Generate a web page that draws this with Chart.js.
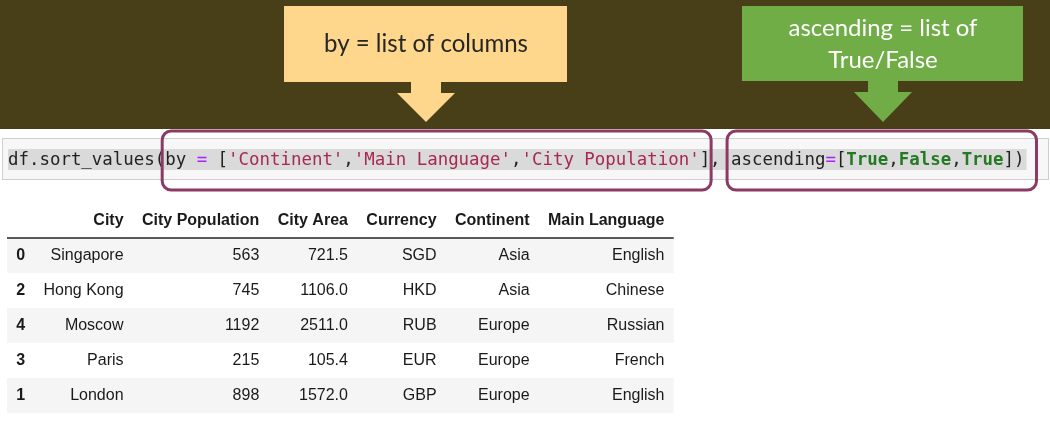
<!DOCTYPE html>
<html>
<head>
<meta charset="utf-8">
<script src="https://cdn.jsdelivr.net/npm/chart.js@4"></script>
<style>
  html, body { margin: 0; padding: 0; background: #fff; }
  #wrap { width: 1050px; height: 423px; position: relative; }
</style>
</head>
<body>
<div id="wrap"><canvas id="sortChart"></canvas></div>
<script>
// dataframe after sort_values
const indexLabels = ['0', '2', '4', '3', '1'];
const columns = ['City', 'City Population', 'City Area', 'Currency', 'Continent', 'Main Language'];
const cities = ['Singapore', 'Hong Kong', 'Moscow', 'Paris', 'London'];
const populations = [563, 745, 1192, 215, 898];
const areas = [721.5, 1106.0, 2511.0, 105.4, 1572.0];
const currencies = ['SGD', 'HKD', 'RUB', 'EUR', 'GBP'];
const continents = ['Asia', 'Asia', 'Europe', 'Europe', 'Europe'];
const languages = ['English', 'Chinese', 'Russian', 'French', 'English'];

// code line + callouts
const sortBy = ['Continent', 'Main Language', 'City Population'];
const ascendingFlags = [true, false, true];
const byNote = ['by = list of columns'];
const ascNote = ['ascending = list of', 'True/False'];

const cellRows = cities.map((c, i) => [
  c, String(populations[i]), areas[i].toFixed(1), currencies[i], continents[i], languages[i]
]);

const TXT = '#1a1a1a';
const MONO = '"DejaVu Sans Mono", monospace';
const SANS = '"Liberation Sans", Arial, sans-serif';
const NOTE_FONT = 'Lato, "Open Sans", sans-serif';

function callout(ctx, box, tipY, fill, lines, color, baselines, fitW) {
  ctx.fillStyle = fill;
  ctx.fillRect(box.x1, box.y1, box.x2 - box.x1, box.y2 - box.y1);
  const cx = Math.round((box.x1 + box.x2) / 2);
  // shaft + head
  ctx.beginPath();
  ctx.moveTo(cx - 15, box.y2 - 1);
  ctx.lineTo(cx + 15, box.y2 - 1);
  ctx.lineTo(cx + 15, box.y2 + 11);
  ctx.lineTo(cx + 29, box.y2 + 11);
  ctx.lineTo(cx, tipY);
  ctx.lineTo(cx - 29, box.y2 + 11);
  ctx.lineTo(cx - 15, box.y2 + 11);
  ctx.closePath();
  ctx.fill();

  ctx.font = '25px ' + NOTE_FONT;
  const w0 = ctx.measureText(lines[0]).width;
  const size = 25 * fitW / w0;
  ctx.font = size.toFixed(2) + 'px ' + NOTE_FONT;
  ctx.fillStyle = color;
  ctx.textAlign = 'center';
  ctx.textBaseline = 'alphabetic';
  lines.forEach((t, i) => ctx.fillText(t, cx, baselines[i]));
}

function roundBox(ctx, x1, y1, x2, y2, r) {
  ctx.beginPath();
  ctx.moveTo(x1 + r, y1);
  ctx.arcTo(x2, y1, x2, y2, r);
  ctx.arcTo(x2, y2, x1, y2, r);
  ctx.arcTo(x1, y2, x1, y1, r);
  ctx.arcTo(x1, y1, x2, y1, r);
  ctx.closePath();
  ctx.stroke();
}

function drawCode(ctx) {
  // code cell
  ctx.fillStyle = '#f7f7f7';
  ctx.fillRect(2, 138, 1046, 41);
  ctx.strokeStyle = '#cfcfcf';
  ctx.lineWidth = 1;
  ctx.strokeRect(2.5, 138.5, 1046, 41);

  const tokens = [['df.sort_values(', '#222'], ['by', '#222', 'b1'], [' ', '#222'], ['=', '#aa22ff'], [' [', '#222']];
  sortBy.forEach((s, i) => {
    tokens.push(["'" + s + "'", '#a8284f']);
    tokens.push([i < sortBy.length - 1 ? ',' : ']', '#222', i < sortBy.length - 1 ? null : 'e1']);
  });
  tokens.push([', ', '#222']);
  tokens.push(['ascending', '#222', 'b2']);
  tokens.push(['=', '#aa22ff']);
  tokens.push(['[', '#222']);
  ascendingFlags.forEach((f, i) => {
    tokens.push([f ? 'True' : 'False', '#237a23', null, true]);
    tokens.push([i < ascendingFlags.length - 1 ? ',' : '])', '#222', i < ascendingFlags.length - 1 ? null : 'e2']);
  });

  const full = tokens.map(t => t[0]).join('');
  ctx.font = '17px ' + MONO;
  const size = 17 * 1017 / ctx.measureText(full).width;
  ctx.font = size + 'px ' + MONO;
  const x0 = 8;
  const fullW = ctx.measureText(full).width;
  ctx.fillStyle = '#dadada';
  ctx.fillRect(x0, 149, fullW + 2, 21);

  ctx.textAlign = 'left';
  ctx.textBaseline = 'alphabetic';
  const marks = {};
  let x = x0;
  tokens.forEach(([t, col, mark, bold]) => {
    ctx.font = (bold ? 'bold ' : '') + size + 'px ' + MONO;
    ctx.fillStyle = col;
    ctx.fillText(t, x, 165);
    ctx.font = size + 'px ' + MONO;
    const w = ctx.measureText(t).width;
    if (mark) marks[mark] = mark[0] === 'b' ? x : x + w;
    x += w;
  });

  ctx.strokeStyle = '#8c3a64';
  ctx.lineWidth = 3;
  roundBox(ctx, marks.b1 - 3, 131, marks.e1 + 1, 190, 9);
  roundBox(ctx, marks.b2 - 4, 131, marks.e2 + 12, 190, 9);
}

const tablePlugin = {
  id: 'tablePlugin',
  beforeDraw(chart) {
    const ctx = chart.ctx;
    ctx.save();
    ctx.fillStyle = '#ffffff';
    ctx.fillRect(0, 0, chart.width, chart.height);
    ctx.fillStyle = '#483f19';
    ctx.fillRect(0, 0, chart.width, 129);
    callout(ctx, { x1: 284, x2: 567, y1: 6, y2: 82 }, 122, '#fed68c', byNote, '#262626', [52], 204);
    callout(ctx, { x1: 742, x2: 1023, y1: 6, y2: 81 }, 122, '#70ad47', ascNote, '#ffffff', [36, 68], 189);
    drawCode(ctx);
    ctx.restore();
  },
  afterDraw(chart) {
    const ctx = chart.ctx;
    const yS = chart.scales.y;
    const area = chart.chartArea;
    const band = yS.height / indexLabels.length;
    const pad = 9.2;
    ctx.save();

    // column widths from the text itself
    const widths = [];
    ctx.font = 'bold 16px ' + SANS;
    widths.push(Math.max(...indexLabels.map(l => ctx.measureText(l).width)));
    columns.forEach((c, j) => {
      ctx.font = 'bold 16px ' + SANS;
      let w = ctx.measureText(c).width;
      ctx.font = '16px ' + SANS;
      cellRows.forEach(r => { w = Math.max(w, ctx.measureText(r[j]).width); });
      widths.push(w);
    });
    const rights = [];
    let x = area.left;
    widths.forEach(w => { rights.push(x + pad + w); x += 2 * pad + w; });
    const tableRight = x;

    // stripes
    ctx.fillStyle = '#f5f5f5';
    indexLabels.forEach((l, i) => {
      if (i % 2 === 0) {
        const yc = yS.getPixelForValue(i);
        ctx.fillRect(area.left, yc - band / 2, tableRight - area.left, band);
      }
    });

    // header
    ctx.textBaseline = 'middle';
    ctx.textAlign = 'right';
    ctx.fillStyle = TXT;
    ctx.font = 'bold 16px ' + SANS;
    const headY = area.top - band / 2 + 0.5;
    columns.forEach((c, j) => ctx.fillText(c, rights[j + 1], headY));
    ctx.strokeStyle = '#222';
    ctx.lineWidth = 1.5;
    ctx.beginPath();
    ctx.moveTo(area.left, area.top);
    ctx.lineTo(tableRight, area.top);
    ctx.stroke();

    // body
    indexLabels.forEach((l, i) => {
      const yc = yS.getPixelForValue(i) + 0.5;
      ctx.font = 'bold 16px ' + SANS;
      ctx.textAlign = 'left';
      ctx.fillText(l, area.left + pad, yc);
      ctx.font = '16px ' + SANS;
      ctx.textAlign = 'right';
      cellRows[i].forEach((v, j) => ctx.fillText(v, rights[j + 1], yc));
    });
    ctx.restore();
  }
};

new Chart(document.getElementById('sortChart'), {
  type: 'bar',
  data: { labels: indexLabels, datasets: [] },
  options: {
    indexAxis: 'y',
    responsive: true,
    maintainAspectRatio: false,
    animation: false,
    layout: { padding: { top: 238, bottom: 10, left: 7, right: 376 } },
    plugins: { legend: { display: false }, tooltip: { enabled: false } },
    scales: {
      x: { display: false, min: 0, max: 1 },
      y: { type: 'category', display: false, offset: true }
    }
  },
  plugins: [tablePlugin]
});
</script>
</body>
</html>
